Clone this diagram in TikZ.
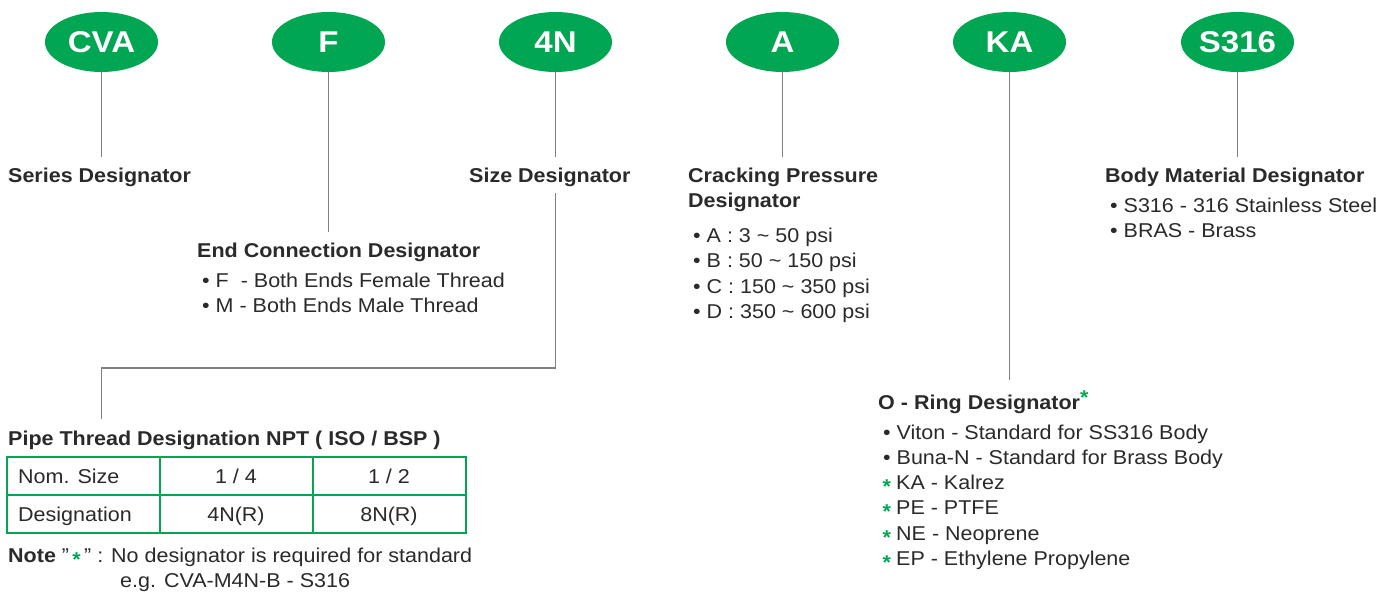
\documentclass[tikz,border=0pt]{standalone}
\usepackage{fontspec}
\setmainfont[FakeStretch=1.075]{Liberation Sans}
\newfontfamily\codefont[FakeStretch=1.1]{Liberation Sans}
\usetikzlibrary{shapes.geometric}
\definecolor{grn}{HTML}{00A651}
\definecolor{txt}{HTML}{2A2A2A}
\definecolor{lin}{HTML}{808080}
\newcommand{\gast}{\makebox[0.35em][c]{\textcolor{grn}{\raisebox{-0.22em}{\bfseries *}}}}
\begin{document}
\begin{tikzpicture}[x=1pt,y=-1pt,
  code/.style={ellipse, fill=grn, text=white, minimum width=113pt, minimum height=60pt, inner sep=0pt, font=\codefont\fontsize{30}{30}\selectfont\bfseries},
  head/.style={anchor=base west, inner sep=0pt, text=txt, font=\fontsize{20}{24}\selectfont\bfseries},
  item/.style={anchor=base west, inner sep=0pt, text=txt, font=\fontsize{20}{24}\selectfont},
  citem/.style={item, anchor=base},
  conn/.style={draw=lin, line width=1.8pt},
  tbl/.style={draw=grn, line width=2pt}
]
\useasboundingbox[fill=white] (0,0) rectangle (1394,592);

% code ellipses
\node[code] (cva)  at (101.5,42) {CVA};
\node[code] (f)    at (328.5,42) {F};
\node[code] (fn)   at (555.5,42) {4N};
\node[code] (a)    at (782.5,42) {A};
\node[code] (ka)   at (1009.5,42) {KA};
\node[code] (s316) at (1237.5,42) {S316};

% headings
\node[head] (series) at (8,182) {Series Designator};
\node[head] (endc)   at (197,257) {End Connection Designator};
\node[item] (f1) at (202,287) {• F\ \ - Both Ends Female Thread};
\node[item] (f2) at (202,312) {• M - Both Ends Male Thread};
\node[head] (size) at (469,182) {Size Designator};
\node[head] (crack) at (688,182) {Cracking Pressure};
\node[head] (crack2) at (688,207) {Designator};
\node[item] (p1) at (693,242) {• A : 3 \textasciitilde{} 50 psi};
\node[item] (p2) at (693,267.5) {• B : 50 \textasciitilde{} 150 psi};
\node[item] (p3) at (693,293) {• C : 150 \textasciitilde{} 350 psi};
\node[item] (p4) at (693,318.5) {• D : 350 \textasciitilde{} 600 psi};
\node[head] (oring) at (878,409) {O - Ring Designator\textcolor{grn}{\raisebox{0.25em}{*}}};
\node[item] (o1) at (883,439) {• Viton - Standard for SS316 Body};
\node[item] (o2) at (883,464) {• Buna-N - Standard for Brass Body};
\node[item] (o3) at (883,489) {\gast{} KA - Kalrez};
\node[item] (o4) at (883,514) {\gast{} PE - PTFE};
\node[item] (o5) at (883,540) {\gast{} NE - Neoprene};
\node[item] (o6) at (883,565) {\gast{} EP - Ethylene Propylene};
\node[head] (body) at (1105,182) {Body Material Designator};
\node[item] (b1) at (1110,212) {• S316 - 316 Stainless Steel};
\node[item] (b2) at (1110,237) {• BRAS - Brass};

% pipe thread table
\node[head] (pipe) at (8,445) {Pipe Thread Designation NPT ( ISO / BSP )};
\draw[tbl] (7,457) rectangle (466,533);
\draw[tbl] (7,495) -- (466,495);
\draw[tbl] (160,457) -- (160,533);
\draw[tbl] (313,457) -- (313,533);
\node[item]  (t11) at (18,483) {Nom. Size};
\node[citem] (t12) at (236,483) {1 / 4};
\node[citem] (t13) at (389,483) {1 / 2};
\node[item]  (t21) at (18,521) {Designation};
\node[citem] (t22) at (236,521) {4N(R)};
\node[citem] (t23) at (389,521) {8N(R)};
\node[item] (note) at (8,562) {\textbf{Note} \symbol{34}\,\textcolor{grn}{\raisebox{-0.2em}{\bfseries *}}\,\symbol{34} : No designator is required for standard};
\node[item] (eg) at (120,587) {e.g. CVA-M4N-B - S316};

% connectors
\draw[conn] (cva.south) -- ([yshift=10pt]cva.south |- series.north);
\draw[conn] (f.south) -- ([yshift=10pt]f.south |- endc.north);
\draw[conn] (fn.south) -- ([yshift=10pt]fn.south |- size.north);
\draw[conn] (a.south) -- ([yshift=10pt]a.south |- crack.north);
\draw[conn] (ka.south) -- ([yshift=10pt]ka.south |- oring.north);
\draw[conn] (s316.south) -- ([yshift=10pt]s316.south |- body.north);
\coordinate (bend) at (fn.south |- 0,368);
\draw[conn] ([yshift=-7pt]fn.south |- size.south) -- (bend) -- (bend -| cva.south) -- ([yshift=11pt]cva.south |- pipe.north);
\end{tikzpicture}
\end{document}
